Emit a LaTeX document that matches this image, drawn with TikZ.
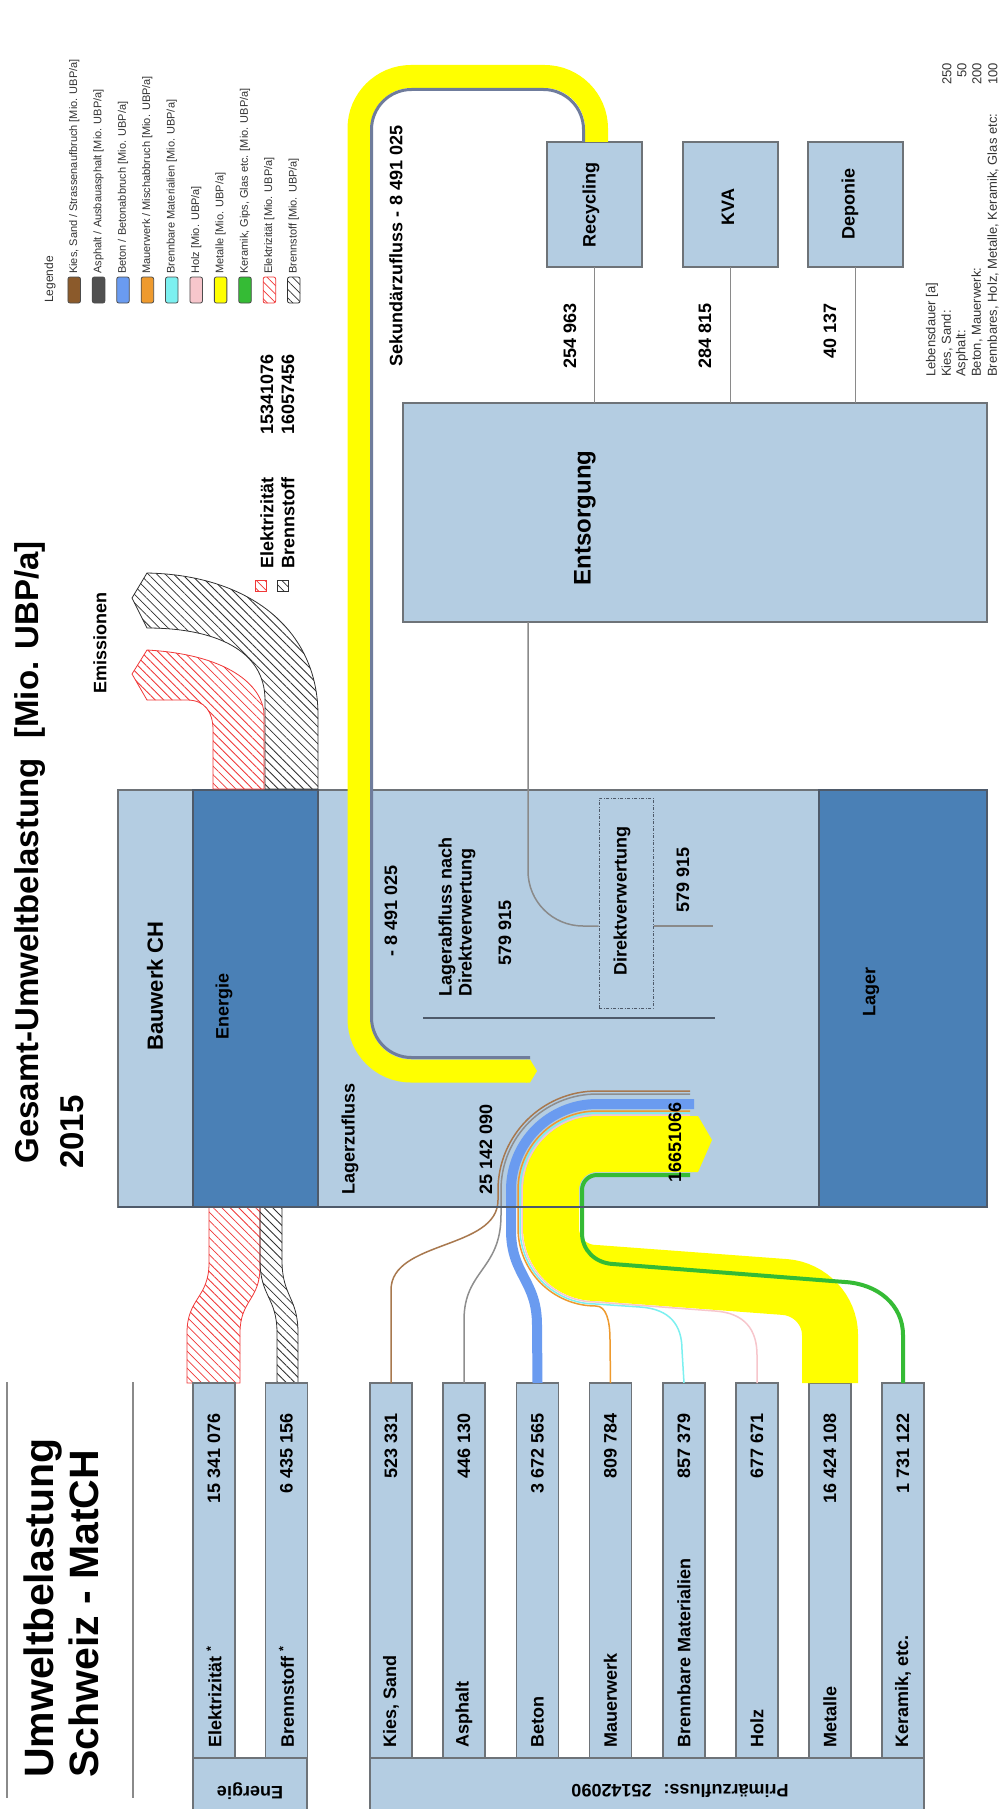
\documentclass[tikz,border=0pt]{standalone}
\usepackage{fontspec}
\setmainfont{Liberation Sans}
\usetikzlibrary{patterns.meta}
\definecolor{lb}{HTML}{B4CDE2}
\definecolor{db}{HTML}{4A80B6}
\definecolor{bord}{HTML}{6E7378}
\definecolor{kies}{HTML}{A8784E}
\definecolor{kiesS}{HTML}{8B5A2B}
\definecolor{asph}{HTML}{8E8E8E}
\definecolor{asphS}{HTML}{505050}
\definecolor{beton}{HTML}{6A9BF0}
\definecolor{mauer}{HTML}{EE9A2E}
\definecolor{brenn}{HTML}{7CF0F0}
\definecolor{holz}{HTML}{F7C6CC}
\definecolor{metal}{HTML}{FFFF00}
\definecolor{kera}{HTML}{35BB35}
\definecolor{slate}{HTML}{6F7C9C}
\definecolor{lgray}{HTML}{8A8A8A}
\definecolor{hred}{HTML}{F03838}
\definecolor{hblk}{HTML}{303030}
\definecolor{sep}{HTML}{4E5A6A}
\begin{document}
\begin{tikzpicture}[x=1pt,y=-1pt,
  lbox/.style={draw=bord,fill=lb,line width=1.3pt,inner sep=0pt,outer sep=0pt},
  dbox/.style={draw=sep,fill=db,line width=1.3pt,inner sep=0pt,outer sep=0pt},
  lab/.style={font=\fontsize{18}{21}\selectfont\bfseries,rotate=90,inner sep=0pt},
  fliptxt/.style={font=\fontsize{18}{21}\selectfont\bfseries,rotate=180,inner sep=0pt},
  smalltxt/.style={font=\fontsize{11}{13}\selectfont,rotate=90,inner sep=0pt,text=black!80},
  thinflow/.style={line width=1.5pt},
  redhatch/.style={draw=hred,line width=0.8pt,pattern={Lines[angle=-45,distance=6pt,line width=0.8pt]},pattern color=hred},
  blkhatch/.style={draw=hblk,line width=0.8pt,pattern={Lines[angle=-45,distance=6pt,line width=0.8pt]},pattern color=hblk},
  conn/.style={draw=lgray,line width=1.5pt},
  swatch/.style={draw=black!70,line width=0.8pt,rounded corners=2pt,minimum width=12.5pt,minimum height=26pt,inner sep=0pt},
]
\useasboundingbox (0,0) rectangle (1004,1809);
\fill[white] (0,0) rectangle (1004,1809);

% ---------- titles ----------
\node[lab, font=\fontsize{33}{37}\selectfont\bfseries, anchor=east] (title) at (30,541) {Gesamt-Umweltbelastung\hspace{0.6em}[Mio. UBP/a]};
\node[lab, font=\fontsize{33}{37}\selectfont\bfseries, anchor=west] (year) at (72,1169) {2015};
\draw[lgray, line width=2pt] (7,1382) -- (7,1798);
\draw[lgray, line width=2pt] (133,1382) -- (133,1798);
\node[lab, font=\fontsize{41}{46}\selectfont\bfseries, anchor=west] (ut1) at (43,1778) {Umweltbelastung};
\node[lab, font=\fontsize{41}{46}\selectfont\bfseries, anchor=west] (ut2) at (84,1778) {Schweiz - MatCH};

% ---------- legend ----------
\node[smalltxt, font=\fontsize{12}{14}\selectfont, anchor=west] (leg) at (50,303) {Legende};
\node[swatch, fill=kiesS] (s1) at (74.2,290) {};
\node[smalltxt, anchor=west] (l1) at (74.2,274) {Kies, Sand / Strassenaufbruch [Mio. UBP/a]};
\node[swatch, fill=asphS] (s2) at (98.6,290) {};
\node[smalltxt, anchor=west] (l2) at (98.6,274) {Asphalt / Ausbauasphalt [Mio. UBP/a]};
\node[swatch, fill=beton] (s3) at (123,290) {};
\node[smalltxt, anchor=west] (l3) at (123,274) {Beton / Betonabbruch [Mio. UBP/a]};
\node[swatch, fill=mauer] (s4) at (147.4,290) {};
\node[smalltxt, anchor=west] (l4) at (147.4,274) {Mauerwerk / Mischabbruch [Mio. UBP/a]};
\node[swatch, fill=brenn] (s5) at (171.8,290) {};
\node[smalltxt, anchor=west] (l5) at (171.8,274) {Brennbare Materialien [Mio. UBP/a]};
\node[swatch, fill=holz] (s6) at (196.2,290) {};
\node[smalltxt, anchor=west] (l6) at (196.2,274) {Holz [Mio. UBP/a]};
\node[swatch, fill=metal] (s7) at (220.6,290) {};
\node[smalltxt, anchor=west] (l7) at (220.6,274) {Metalle [Mio. UBP/a]};
\node[swatch, fill=kera] (s8) at (245,290) {};
\node[smalltxt, anchor=west] (l8) at (245,274) {Keramik, Gips, Glas etc. [Mio. UBP/a]};
\node[swatch, redhatch] (s9) at (269.4,290) {};
\node[smalltxt, anchor=west] (l9) at (269.4,274) {Elektrizität [Mio. UBP/a]};
\node[swatch, blkhatch] (s10) at (293.8,290) {};
\node[smalltxt, anchor=west] (l10) at (293.8,274) {Brennstoff [Mio. UBP/a]};

% ---------- Lebensdauer ----------
\node[smalltxt, font=\fontsize{13}{15}\selectfont, anchor=west] (ld1) at (932,377) {Lebensdauer [a]};
\node[smalltxt, font=\fontsize{13}{15}\selectfont, anchor=west] (ld2) at (947,377) {Kies, Sand:};
\node[smalltxt, font=\fontsize{13}{15}\selectfont, anchor=west] (ld3) at (962,377) {Asphalt:};
\node[smalltxt, font=\fontsize{13}{15}\selectfont, anchor=west] (ld4) at (977,377) {Beton, Mauerwerk:};
\node[smalltxt, font=\fontsize{13}{15}\selectfont, anchor=west] (ld5) at (993,377) {Brennbares, Holz, Metalle, Keramik, Glas etc:};
\node[smalltxt, font=\fontsize{13}{15}\selectfont, anchor=east] (lv2) at (947,63) {250};
\node[smalltxt, font=\fontsize{13}{15}\selectfont, anchor=east] (lv3) at (962,63) {50};
\node[smalltxt, font=\fontsize{13}{15}\selectfont, anchor=east] (lv4) at (977,63) {200};
\node[smalltxt, font=\fontsize{13}{15}\selectfont, anchor=east] (lv5) at (993,63) {100};

% ---------- disposal boxes ----------
\node[lbox, minimum width=95pt, minimum height=125pt] (rec) at (594.5,204.5) {};
\node[lbox, minimum width=95pt, minimum height=125pt] (kva) at (730.5,204.5) {};
\node[lbox, minimum width=95pt, minimum height=125pt] (dep) at (855.5,204.5) {};
\node[lbox, minimum width=584pt, minimum height=219pt] (ents) at (695,512.5) {};
\draw[conn] (rec.south) -- (rec.south |- ents.north);
\draw[conn] (kva.south) -- (kva.south |- ents.north);
\draw[conn] (dep.south) -- (dep.south |- ents.north);
\node[lab] (trec) at (591,205) {Recycling};
\node[lab] (tkva) at (728,207) {KVA};
\node[lab] (tdep) at (850,204) {Deponie};
\node[lab, anchor=east] (v1) at (570,303) {254 963};
\node[lab, anchor=east] (v2) at (705,303) {284 815};
\node[lab, anchor=east] (v3) at (830,303) {40 137};
\node[lab, font=\fontsize{24}{28}\selectfont\bfseries] (tents) at (585,518) {Entsorgung};

% ---------- Bauwerk ----------
\node[lbox, minimum width=869pt, minimum height=417pt] (bw) at (552.5,998.5) {};
\node[dbox, minimum width=125pt, minimum height=417pt] (energ) at (255.5,998.5) {};
\node[dbox, minimum width=168pt, minimum height=417pt] (lager) at (903,998.5) {};
\node[lab, font=\fontsize{22}{26}\selectfont\bfseries] (tbw) at (155,986) {Bauwerk CH};
\node[lab] (ten) at (224,1006) {Energie};
\node[lab] (tla) at (871,992) {Lager};

\node[draw=sep, dash pattern=on 3pt off 1.5pt on 1pt off 1.5pt, line width=1pt, minimum width=54pt, minimum height=210pt, inner sep=0pt] (dv) at (626,903) {};
\coordinate (e1) at ([xshift=-167pt]ents.south);
\draw[conn] (e1) -- (528,871) .. controls (528,901.4) and (552.6,926) .. (583,926) -- ([yshift=-23pt]dv.west);
\coordinate (e2) at (713,926);
\draw[conn] ([yshift=-23pt]dv.east) -- (e2);
\draw[sep, line width=2pt] (423,1018) -- (715,1018);

% ---------- energy inputs ----------
\draw[redhatch] (187,1383) -- (187,1333) .. controls (187,1298) and (209,1298) .. (209,1263) -- (209,1207) -- (260,1207) -- (260,1267) .. controls (260,1300) and (240,1300) .. (240,1333) -- (240,1383) -- cycle;
\draw[blkhatch] (277,1383) -- (277,1333) .. controls (277,1297) and (260,1297) .. (260,1260) -- (260,1207) -- (282,1207) -- (282,1260) .. controls (282,1297) and (298,1297) .. (298,1333) -- (298,1383) -- cycle;

% ---------- emissions ----------
\draw[blkhatch] (318,789) -- (318,715) .. controls (318,630) and (250,575) .. (147,573) -- (132,598) -- (147,628) .. controls (215,628) and (265,650) .. (265,700) -- (265,789) -- cycle;
\draw[redhatch] (264,789) -- (264,715) .. controls (264,690) and (235,655) .. (147,650) -- (132,674) -- (147,700) -- (187,700) .. controls (205,700) and (213,712) .. (213,730) -- (213,789) -- cycle;
\node[lab] (tem) at (100,643) {Emissionen};
\node[redhatch, minimum width=11pt, minimum height=11pt, inner sep=0pt] (q1) at (261,586) {};
\node[blkhatch, minimum width=11pt, minimum height=11pt, inner sep=0pt] (q2) at (282.5,586) {};
\node[lab, anchor=west] (te1) at (267,569) {Elektrizität};
\node[lab, anchor=west] (te2) at (288,569) {Brennstoff};
\node[lab, anchor=west] (te3) at (267,435) {15341076};
\node[lab, anchor=west] (te4) at (288,435) {16057456};

% ---------- material boxes ----------
\node[lbox, minimum width=114pt, minimum height=57pt] (ebase) at (250,1786.5) {};
\node[lbox, minimum width=554pt, minimum height=57pt] (pbase) at (647,1786.5) {};
\node[fliptxt] (tebase) at (250,1791) {Energie};
\node[fliptxt] (tpbase) at (680,1791) {Primärzufluss:\hspace{12pt}25142090};
\node[lbox, minimum width=42pt, minimum height=375pt] (qel) at (214,1570.5) {};
\node[lbox, minimum width=42pt, minimum height=375pt] (qbr) at (286.5,1570.5) {};
\node[lbox, minimum width=42pt, minimum height=375pt] (m1) at (391,1570.5) {};
\node[lbox, minimum width=42pt, minimum height=375pt] (m2) at (464,1570.5) {};
\node[lbox, minimum width=42pt, minimum height=375pt] (m3) at (537.5,1570.5) {};
\node[lbox, minimum width=42pt, minimum height=375pt] (m4) at (610.5,1570.5) {};
\node[lbox, minimum width=42pt, minimum height=375pt] (m5) at (684,1570.5) {};
\node[lbox, minimum width=42pt, minimum height=375pt] (m6) at (757,1570.5) {};
\node[lbox, minimum width=42pt, minimum height=375pt] (m7) at (830,1570.5) {};
\node[lbox, minimum width=42pt, minimum height=375pt] (m8) at (903,1570.5) {};
\node[lab, anchor=west] (n0a) at (214,1748) {Elektrizität \textsuperscript{*}};
\node[lab, anchor=east] (n0b) at (214,1413) {15 341 076};
\node[lab, anchor=west] (n9a) at (286.5,1748) {Brennstoff \textsuperscript{*}};
\node[lab, anchor=east] (n9b) at (286.5,1413) {6 435 156};
\node[lab, anchor=west] (n1a) at (391,1748) {Kies, Sand};
\node[lab, anchor=east] (n1b) at (391,1413) {523 331};
\node[lab, anchor=west] (n2a) at (464,1748) {Asphalt};
\node[lab, anchor=east] (n2b) at (464,1413) {446 130};
\node[lab, anchor=west] (n3a) at (537.5,1748) {Beton};
\node[lab, anchor=east] (n3b) at (537.5,1413) {3 672 565};
\node[lab, anchor=west] (n4a) at (610.5,1748) {Mauerwerk};
\node[lab, anchor=east] (n4b) at (610.5,1413) {809 784};
\node[lab, anchor=west] (n5a) at (684,1748) {Brennbare Materialien};
\node[lab, anchor=east] (n5b) at (684,1413) {857 379};
\node[lab, anchor=west] (n6a) at (757,1748) {Holz};
\node[lab, anchor=east] (n6b) at (757,1413) {677 671};
\node[lab, anchor=west] (n7a) at (830,1748) {Metalle};
\node[lab, anchor=east] (n7b) at (830,1413) {16 424 108};
\node[lab, anchor=west] (n8a) at (903,1748) {Keramik, etc.};
\node[lab, anchor=east] (n8b) at (903,1413) {1 731 122};

% ---------- material flows ----------
\draw[metal, line width=56pt] (m7.north) -- (830,1335) .. controls (830,1310) and (810,1289) .. (785,1287) -- (596,1273) .. controls (571.1,1273) and (551,1252.9) .. (551,1228) -- (551,1190) .. controls (551,1164.6) and (571.6,1144) .. (597,1144) -- (692,1144);
\fill[metal] (691,1116) -- (698,1116) -- (712,1140) -- (698,1172) -- (691,1172) -- cycle;
\draw[holz, thinflow] (m6.north) -- (757,1355) .. controls (757,1330) and (745,1313) .. (715,1311) -- (596,1302) .. controls (555.1,1302) and (522,1268.9) .. (522,1228) -- (522,1190) .. controls (522,1148.6) and (555.6,1115) .. (597,1115) -- (690,1115);
\draw[brenn, thinflow] (m5.north) -- (682,1350) .. controls (682,1325) and (670,1309) .. (640,1307) -- (596,1304) .. controls (554,1304) and (520,1270) .. (520,1228) -- (520,1190) .. controls (520,1147.5) and (554.5,1113) .. (597,1113) -- (690,1113);
\draw[mauer, thinflow] (m4.north) -- (610,1340) .. controls (610,1320) and (606,1306) .. (596,1306) .. controls (552.9,1306) and (518,1271.1) .. (518,1228) -- (518,1190) .. controls (518,1146.4) and (553.4,1111) .. (597,1111) -- (690,1111);
\draw[beton, line width=10pt] (m3.north) -- (537,1325) .. controls (537,1280) and (511,1275) .. (511,1230) -- (511,1190) .. controls (511,1142.5) and (549.5,1104) .. (597,1104) -- (694,1104);
\draw[asph, thinflow] (m2.north) -- (464,1320) .. controls (464,1270) and (501,1270) .. (501,1215) -- (501,1190) .. controls (501,1137) and (544,1094) .. (597,1094) -- (690,1094);
\draw[kies, thinflow] (m1.north) -- (391,1290) .. controls (391,1240) and (498,1250) .. (498,1200) -- (498,1190) .. controls (498,1135.3) and (542.3,1091) .. (597,1091) -- (690,1091);
\draw[kera, line width=4pt] (m8.north) -- (903,1335) .. controls (903,1305) and (878,1284) .. (845,1282) -- (613,1264) .. controls (595,1263) and (582,1250) .. (582,1233) -- (582,1190) .. controls (582,1181.7) and (588.7,1175) .. (597,1175) -- (690,1175);
\draw[sep, line width=1.3pt] (bw.south west) -- (bw.south east);

% ---------- secondary flow ----------
\draw[metal, line width=23pt, rounded corners=52pt] (596.5,142) -- (596.5,76.5) -- (359,76.5) -- (359,1071) -- (527,1071);
\fill[metal] (526,1059.5) -- (530,1059.5) -- (537,1071) -- (530,1082.5) -- (526,1082.5) -- cycle;
\draw[slate, line width=3pt, rounded corners=40pt] (583.5,142) -- (583.5,89.5) -- (371.5,89.5) -- (371.5,1057.5) -- (530,1057.5);

% ---------- labels inside Bauwerk ----------
\node[lab, anchor=west] (tlz) at (350,1195) {Lagerzufluss};
\node[lab, anchor=west] (tlzv) at (486,1195) {25 142 090};
\node[lab, anchor=west] (tmet) at (675,1183) {16651066};
\node[lab, anchor=west] (tsek2) at (391,957) {- 8 491 025};
\node[lab, anchor=west] (tla1) at (447,997) {Lagerabfluss nach};
\node[lab, anchor=west] (tla2) at (467,997) {Direktverwertung};
\node[lab] (tla3) at (505,933) {579 915};
\node[lab] (tdv) at (622,901) {Direktverwertung};
\node[lab] (tdv2) at (683,880) {579 915};
\node[lab, anchor=east] (tsek) at (396,125) {Sekundärzufluss -\hspace{6pt}8 491 025};
\end{tikzpicture}
\end{document}
